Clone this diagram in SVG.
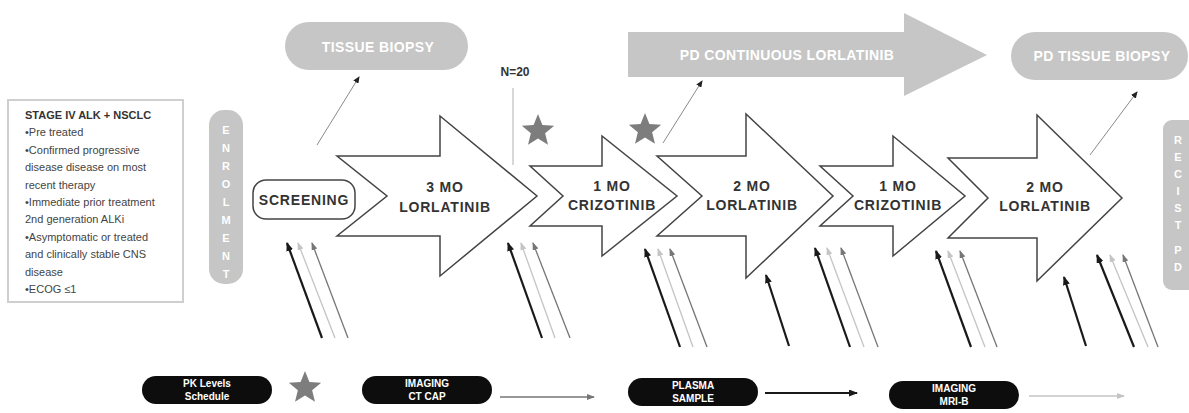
<svg xmlns="http://www.w3.org/2000/svg" width="1189" height="413" viewBox="0 0 1189 413">
  <style>
    text { font-family: "Liberation Sans", Arial, sans-serif; }
    .box { fill: #ffffff; stroke: #cfcfcf; stroke-width: 2; }
    .boxtitle { font-size: 11px; font-weight: bold; fill: #333; }
    .boxtxt { font-size: 11px; fill: #444; }
    .pillgray { fill: #c6c6c6; }
    .pilltxt { font-size: 14px; font-weight: bold; fill: #ffffff; text-anchor: middle; letter-spacing: 0.4px; }
    .vtxt { font-size: 11px; font-weight: bold; fill: #ffffff; text-anchor: middle; }
    .chev { fill: #ffffff; stroke: #444; stroke-width: 1.5; stroke-linejoin: miter; }
    .chevtxt { font-size: 14px; font-weight: bold; fill: #333; text-anchor: middle; letter-spacing: 0.8px; }
    .star { fill: #7d7d7d; }
    .legpill { fill: #0d0d0d; }
    .legtxt { font-size: 10px; font-weight: bold; fill: #ffffff; text-anchor: middle; }
    .kline { stroke: #1a1a1a; stroke-width: 2.2; fill: none; }
    .lline { stroke: #c4c4c4; stroke-width: 1.3; fill: none; }
    .mline { stroke: #767676; stroke-width: 1.3; fill: none; }
    .thin { stroke: #8a8a8a; stroke-width: 1; fill: none; }
  </style>
  <defs>
    <marker id="hk" markerUnits="userSpaceOnUse" markerWidth="9" markerHeight="7" refX="8" refY="3.5" orient="auto">
      <path d="M0,0 L9,3.5 L0,7 z" fill="#1a1a1a"/>
    </marker>
    <marker id="hl" markerUnits="userSpaceOnUse" markerWidth="8" markerHeight="6" refX="7" refY="3" orient="auto">
      <path d="M0,0 L8,3 L0,6 z" fill="#c4c4c4"/>
    </marker>
    <marker id="hm" markerUnits="userSpaceOnUse" markerWidth="8" markerHeight="6" refX="7" refY="3" orient="auto">
      <path d="M0,0 L8,3 L0,6 z" fill="#767676"/>
    </marker>
    <marker id="ht" markerUnits="userSpaceOnUse" markerWidth="7" markerHeight="6" refX="6" refY="3" orient="auto">
      <path d="M0,0 L7,3 L0,6 z" fill="#222"/>
    </marker>
    <path id="starShape" d="M0,-17 L4.41,-6.07 L16.17,-5.25 L7.13,2.32 L9.99,13.75 L0,7.5 L-9.99,13.75 L-7.13,2.32 L-16.17,-5.25 L-4.41,-6.07 Z"/>
  </defs>

  <!-- eligibility box -->
  <g id="eligibility">
    <rect class="box" x="8" y="100" width="175" height="202"/>
    <text class="boxtitle" x="25" y="119">STAGE IV ALK + NSCLC</text>
    <text class="boxtxt" x="25" y="136.4">•Pre treated</text>
    <text class="boxtxt" x="25" y="153.8">•Confirmed progressive</text>
    <text class="boxtxt" x="25" y="171.2">disease disease on most</text>
    <text class="boxtxt" x="25" y="188.6">recent therapy</text>
    <text class="boxtxt" x="25" y="206">•Immediate prior treatment</text>
    <text class="boxtxt" x="25" y="223.4">2nd generation ALKi</text>
    <text class="boxtxt" x="25" y="240.8">•Asymptomatic or treated</text>
    <text class="boxtxt" x="25" y="258.2">and clinically stable CNS</text>
    <text class="boxtxt" x="25" y="275.6">disease</text>
    <text class="boxtxt" x="25" y="293">•ECOG ≤1</text>
  </g>

  <!-- enrolment bar -->
  <g id="enrolment">
    <rect class="pillgray" x="209" y="110" width="34" height="174" rx="15"/>
    <text class="vtxt" x="226" y="134">E</text>
    <text class="vtxt" x="226" y="152">N</text>
    <text class="vtxt" x="226" y="170">R</text>
    <text class="vtxt" x="226" y="188">O</text>
    <text class="vtxt" x="226" y="206">L</text>
    <text class="vtxt" x="226" y="224">M</text>
    <text class="vtxt" x="226" y="242">E</text>
    <text class="vtxt" x="226" y="260">N</text>
    <text class="vtxt" x="226" y="278">T</text>
  </g>

  <!-- RECIST PD bar -->
  <g id="recist-pd">
    <rect class="pillgray" x="1163" y="120" width="34" height="170" rx="9"/>
    <text class="vtxt" x="1178" y="144">R</text>
    <text class="vtxt" x="1178" y="161">E</text>
    <text class="vtxt" x="1178" y="178">C</text>
    <text class="vtxt" x="1178" y="195">I</text>
    <text class="vtxt" x="1178" y="212">S</text>
    <text class="vtxt" x="1178" y="229">T</text>
    <text class="vtxt" x="1178" y="254">P</text>
    <text class="vtxt" x="1178" y="271">D</text>
  </g>

  <!-- top row -->
  <g id="tissue-biopsy">
    <rect class="pillgray" x="285" y="22" width="183" height="48" rx="24"/>
    <text class="pilltxt" x="378" y="52">TISSUE BIOPSY</text>
  </g>
  <g id="pd-continuous">
    <path class="pillgray" d="M628,32 L904,32 L904,13 L987,55 L904,96 L904,77 L628,77 Z"/>
    <text class="pilltxt" x="787" y="60">PD CONTINUOUS LORLATINIB</text>
  </g>
  <g id="pd-tissue-biopsy">
    <rect class="pillgray" x="1011" y="32" width="177" height="48" rx="24"/>
    <text class="pilltxt" x="1102" y="61">PD TISSUE BIOPSY</text>
  </g>
  <g id="n20">
    <text x="515" y="76" style="font-size:12px;font-weight:bold;fill:#333;text-anchor:middle">N=20</text>
    <line x1="513" y1="88" x2="513" y2="165" stroke="#b0b0b0" stroke-width="1"/>
  </g>

  <!-- treatment sequence -->
  <g id="screening">
    <rect x="253" y="180" width="102" height="39" rx="13" fill="#fff" stroke="#444" stroke-width="1.5"/>
    <text class="chevtxt" x="304" y="205">SCREENING</text>
  </g>
  <g id="lorlatinib-3mo">
    <polygon class="chev" points="337,156 440,156 440,116 537,196 440,276 440,236 337,236 387,196"/>
    <text class="chevtxt" x="445" y="192">3 MO</text>
    <text class="chevtxt" x="445" y="212">LORLATINIB</text>
  </g>
  <g id="crizotinib-1mo-a">
    <polygon class="chev" points="530,166 602,166 602,136 677,196 602,256 602,226 530,226 563,196"/>
    <text class="chevtxt" x="612" y="191">1 MO</text>
    <text class="chevtxt" x="612" y="210">CRIZOTINIB</text>
  </g>
  <g id="lorlatinib-2mo-a">
    <polygon class="chev" points="657,156 746,156 746,114 833,196 746,278 746,236 657,236 702,196"/>
    <text class="chevtxt" x="752" y="191">2 MO</text>
    <text class="chevtxt" x="752" y="210">LORLATINIB</text>
  </g>
  <g id="crizotinib-1mo-b">
    <polygon class="chev" points="820,166 893,166 893,136 965,196 893,256 893,226 820,226 853,196"/>
    <text class="chevtxt" x="898" y="191">1 MO</text>
    <text class="chevtxt" x="898" y="210">CRIZOTINIB</text>
  </g>
  <g id="lorlatinib-2mo-b">
    <polygon class="chev" points="948,158 1037,158 1037,115 1122,198 1037,281 1037,238 948,238 988,198"/>
    <text class="chevtxt" x="1045" y="192">2 MO</text>
    <text class="chevtxt" x="1045" y="211">LORLATINIB</text>
  </g>

  <!-- plasma sample markers -->
  <g id="stars">
    <use href="#starShape" class="star" transform="translate(538,131)"/>
    <use href="#starShape" class="star" transform="translate(645,130)"/>
  </g>

  <!-- connectors -->
  <g id="connectors">
    <line class="thin" x1="317" y1="145" x2="359" y2="77" marker-end="url(#ht)"/>
    <line class="thin" x1="663" y1="143" x2="702" y2="81" marker-end="url(#ht)"/>
    <line class="thin" x1="1090" y1="155" x2="1137" y2="92" marker-end="url(#ht)"/>

    <line class="kline" x1="322" y1="338" x2="287" y2="243" marker-end="url(#hk)"/>
    <line class="lline" x1="335" y1="338" x2="298" y2="243" marker-end="url(#hl)"/>
    <line class="mline" x1="348" y1="338" x2="312" y2="243" marker-end="url(#hm)"/>

    <line class="kline" x1="542" y1="338" x2="508" y2="243" marker-end="url(#hk)"/>
    <line class="lline" x1="555" y1="338" x2="521" y2="243" marker-end="url(#hl)"/>
    <line class="mline" x1="570" y1="338" x2="533" y2="243" marker-end="url(#hm)"/>

    <line class="kline" x1="680" y1="347" x2="645" y2="249" marker-end="url(#hk)"/>
    <line class="lline" x1="693" y1="347" x2="658" y2="249" marker-end="url(#hl)"/>
    <line class="mline" x1="707" y1="347" x2="670" y2="249" marker-end="url(#hm)"/>

    <line class="kline" x1="789" y1="346" x2="766" y2="275" marker-end="url(#hk)"/>

    <line class="kline" x1="850" y1="347" x2="815" y2="248" marker-end="url(#hk)"/>
    <line class="lline" x1="864" y1="347" x2="827" y2="248" marker-end="url(#hl)"/>
    <line class="mline" x1="878" y1="347" x2="841" y2="248" marker-end="url(#hm)"/>

    <line class="kline" x1="971" y1="347" x2="936" y2="251" marker-end="url(#hk)"/>
    <line class="lline" x1="985" y1="347" x2="948" y2="251" marker-end="url(#hl)"/>
    <line class="mline" x1="997" y1="347" x2="960" y2="251" marker-end="url(#hm)"/>

    <line class="kline" x1="1086" y1="346" x2="1064" y2="277" marker-end="url(#hk)"/>

    <line class="kline" x1="1134" y1="347" x2="1097" y2="255" marker-end="url(#hk)"/>
    <line class="lline" x1="1148" y1="347" x2="1110" y2="255" marker-end="url(#hl)"/>
    <line class="mline" x1="1158" y1="347" x2="1123" y2="255" marker-end="url(#hm)"/>
  </g>

  <!-- legend -->
  <g id="legend-pk">
    <rect class="legpill" x="142" y="376" width="130" height="28" rx="14"/>
    <text class="legtxt" x="207" y="387">PK Levels</text>
    <text class="legtxt" x="207" y="400">Schedule</text>
  </g>
  <g id="legend-star">
    <use href="#starShape" class="star" transform="translate(305,388)"/>
  </g>
  <g id="legend-ct">
    <rect class="legpill" x="362" y="376" width="130" height="28" rx="14"/>
    <text class="legtxt" x="427" y="387">IMAGING</text>
    <text class="legtxt" x="427" y="400">CT CAP</text>
    <line class="mline" x1="500" y1="397" x2="594" y2="397" marker-end="url(#hm)"/>
  </g>
  <g id="legend-plasma">
    <rect class="legpill" x="628" y="378" width="130" height="28" rx="14"/>
    <text class="legtxt" x="693" y="389">PLASMA</text>
    <text class="legtxt" x="693" y="402">SAMPLE</text>
    <line class="kline" x1="765" y1="393" x2="857" y2="393" marker-end="url(#hk)"/>
  </g>
  <g id="legend-mri">
    <rect class="legpill" x="889" y="381" width="130" height="28" rx="14"/>
    <text class="legtxt" x="954" y="392">IMAGING</text>
    <text class="legtxt" x="954" y="405">MRI-B</text>
    <line class="lline" x1="1029" y1="396" x2="1124" y2="396" marker-end="url(#hl)"/>
  </g>
</svg>
